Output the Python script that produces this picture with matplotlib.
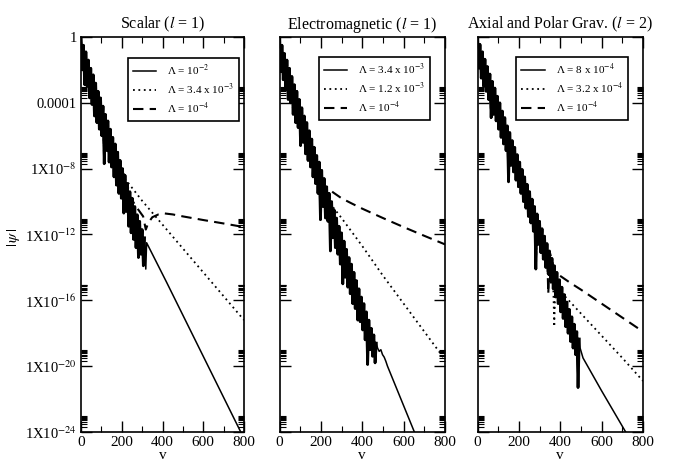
import numpy as np
import matplotlib.pyplot as plt
from matplotlib.ticker import FixedLocator, MultipleLocator, NullFormatter

plt.rcParams["font.family"] = ["Liberation Serif", "DejaVu Serif"]
plt.rcParams["mathtext.fontset"] = "stix"

# ---- data: log10|psi| ----
# ringing stage, shared by the three runs of a panel:
# crests at v = 0, 12, 24, ... and dips half-way between them
scalar_crest = [0.0, -0.5, -0.9, -1.4, -1.9, -2.3, -2.8, -3.3, -3.7, -4.2, -4.7, -5.1, -5.6, -6.1,
                -6.5, -7.0, -7.5, -8.0, -8.4, -8.9, -9.4, -9.8, -10.3, -10.8, -11.2, -11.7, -12.2]
scalar_dip = [-2.0, -2.9, -3.0, -3.7, -4.1, -4.8, -5.2, -5.6, -6.0, -7.7, -6.9, -7.6, -7.9,
              -8.5, -9.0, -9.5, -9.8, -10.7, -10.6, -11.5, -11.9, -12.3, -12.8, -13.4, -13.2, -13.9]

em_crest = [0.0, -0.5, -1.0, -1.4, -1.9, -2.4, -2.9, -3.3, -3.8, -4.3, -4.8, -5.2, -5.7, -6.2,
            -6.7, -7.2, -7.6, -8.1, -8.6, -9.1, -9.5, -10.0, -10.5, -11.0, -11.5, -11.9, -12.4,
            -12.9, -13.4, -13.8, -14.3, -14.8, -15.3, -15.8, -16.2, -16.7, -17.2, -17.7, -18.1, -18.6]
em_dip = [-2.1, -2.6, -3.2, -3.8, -4.0, -4.7, -5.2, -5.5, -6.6, -6.4, -7.1, -7.5, -7.9, -8.5,
          -8.9, -9.5, -11.1, -10.3, -11.0, -11.2, -13.0, -12.2, -12.8, -13.2, -13.8, -15.0, -14.6,
          -15.2, -15.6, -16.2, -16.5, -17.2, -17.3, -17.8, -18.4, -19.9, -19.0, -19.4, -19.8]

grav_crest = [0.0, -0.45, -0.9, -1.35, -1.8, -2.25, -2.7, -3.1, -3.6, -4.0, -4.5, -4.9, -5.4, -5.8,
              -6.3, -6.7, -7.15, -7.6, -8.05, -8.5, -8.95, -9.4, -9.85, -10.3, -10.75, -11.2, -11.65,
              -12.1, -12.55, -13.0, -13.45, -13.9, -14.3, -14.75, -15.2, -15.65, -16.1, -16.55, -17.0,
              -17.45, -17.9, -18.35]
grav_dip = [-1.9, -2.5, -3.0, -3.3, -3.8, -4.9, -4.7, -5.1, -5.6, -6.1, -6.5, -6.9, -8.8, -7.8,
            -8.2, -8.7, -9.1, -9.5, -10.0, -10.4, -10.9, -11.3, -11.8, -14.1, -12.6, -13.1, -13.5,
            -14.0, -14.4, -14.9, -15.3, -15.8, -16.2, -16.7, -17.1, -17.6, -18.0, -18.5, -18.9,
            -19.3, -21.3]

# late-time tails, (v, log10|psi|), and where each run leaves the ringing band
scalar_solid_end = 312
scalar_solid_v = [318, 322, 420, 500, 600, 700, 800]
scalar_solid_lg = [-14.1, -12.5, -14.9, -16.9, -19.4, -21.9, -24.4]
scalar_dot_end = 204
scalar_dot_v = [215, 300, 400, 500, 600, 700, 800]
scalar_dot_lg = [-8.6, -9.95, -11.4, -12.85, -14.3, -15.75, -17.2]
scalar_dash_end = 228
scalar_dash_v = [236, 270, 305, 318, 330, 350, 380, 410, 450, 500, 600, 700, 800]
scalar_dash_lg = [-9.6, -10.3, -10.9, -11.7, -11.3, -10.95, -10.78, -10.72, -10.78, -10.9,
                  -11.12, -11.33, -11.55]

em_solid_end = 468
em_solid_v = [474, 482, 490, 498, 506, 514, 522, 600, 652, 700]
em_solid_lg = [-18.9, -19.1, -19.0, -19.3, -19.45, -19.7, -20.0, -22.4, -24.0, -25.5]
em_dot_end = 240
em_dot_v = [250, 300, 400, 500, 600, 700, 800]
em_dot_lg = [-10.2, -11.0, -12.7, -14.5, -16.2, -17.9, -19.6]
em_dash_end = 228
em_dash_v = [240, 260, 300, 350, 400, 500, 600, 700, 800]
em_dash_lg = [-9.25, -9.45, -9.8, -10.12, -10.43, -11.0, -11.55, -12.08, -12.6]

grav_solid_end = 492
grav_solid_v = [496, 510, 600, 707, 800]
grav_solid_lg = [-18.9, -19.5, -21.5, -23.8, -25.8]
grav_dot_end = 348
grav_dot_v = [356, 366, 371, 376, 400, 500, 600, 700, 800]
grav_dot_lg = [-14.4, -15.0, -17.6, -15.1, -15.45, -16.8, -18.15, -19.5, -20.9]
grav_dash_end = 336
grav_dash_v = [342, 350, 375, 450, 500, 600, 700, 800]
grav_dash_lg = [-15.6, -13.1, -14.3, -14.95, -15.35, -16.2, -17.05, -17.9]

titles = [r"Scalar ($l$ = 1)", r"Electromagnetic ($l$ = 1)", r"Axial and Polar Grav. ($l$ = 2)"]
legend_labels = [
    [r"Λ = 10$^{-2}$", r"Λ = 3.4 x 10$^{-3}$", r"Λ = 10$^{-4}$"],
    [r"Λ = 3.4 x 10$^{-3}$", r"Λ = 1.2 x 10$^{-3}$", r"Λ = 10$^{-4}$"],
    [r"Λ = 8 x 10$^{-4}$", r"Λ = 3.2 x 10$^{-4}$", r"Λ = 10$^{-4}$"],
]
ytick_values = [1e-24, 1e-20, 1e-16, 1e-12, 1e-8, 1e-4, 1]
ytick_labels = [r"1X10$^{-24}$", r"1X10$^{-20}$", r"1X10$^{-16}$", r"1X10$^{-12}$",
                r"1X10$^{-8}$", "0.0001", "1"]


def ringdown(crest, dip):
    v = np.arange(len(crest) + len(dip)) * 6.0
    lg = np.empty(len(v))
    lg[0::2] = crest
    lg[1::2] = dip
    return v, lg


def curve(ring, v_end, tail_v, tail_lg):
    v, lg = ring
    keep = v <= v_end
    return np.r_[v[keep], tail_v], 10.0 ** np.r_[lg[keep], tail_lg]


rings = [ringdown(scalar_crest, scalar_dip), ringdown(em_crest, em_dip), ringdown(grav_crest, grav_dip)]
runs = [
    [(scalar_solid_end, scalar_solid_v, scalar_solid_lg),
     (scalar_dot_end, scalar_dot_v, scalar_dot_lg),
     (scalar_dash_end, scalar_dash_v, scalar_dash_lg)],
    [(em_solid_end, em_solid_v, em_solid_lg),
     (em_dot_end, em_dot_v, em_dot_lg),
     (em_dash_end, em_dash_v, em_dash_lg)],
    [(grav_solid_end, grav_solid_v, grav_solid_lg),
     (grav_dot_end, grav_dot_v, grav_dot_lg),
     (grav_dash_end, grav_dash_v, grav_dash_lg)],
]
styles = [dict(ls="-", lw=1.1), dict(ls=(0, (1, 2)), lw=1.3), dict(ls=(0, (5, 3)), lw=1.5)]

fig = plt.figure(figsize=(6.78, 4.61), dpi=100)
boxes = [(81, 163), (279.5, 165.5), (477.5, 165.5)]
legend_anchor = [(0.969, 0.947), (0.909, 0.949), (0.909, 0.949)]
ytop, ybot = 37, 432
minor_y = [m * k for m in ytick_values[:-1] for k in range(2, 10)]

for i, (x0, w) in enumerate(boxes):
    ax = fig.add_axes([x0 / 678, (461 - ybot) / 461, w / 678, (ybot - ytop) / 461])

    # the ringing band is dense in the original, draw it with a heavier pen
    ring_v, ring_lg = rings[i]
    band = ring_v <= runs[i][0][0]
    ax.plot(ring_v[band], 10.0 ** ring_lg[band], color="black", lw=2.0)

    lines = []
    for (v_end, tv, tl), st in zip(runs[i], styles):
        v, psi = curve(rings[i], v_end, tv, tl)
        ln, = ax.plot(v, psi, color="black", **st)
        lines.append(ln)

    ax.set_yscale("log")
    ax.set_xlim(0, 800)
    ax.set_ylim(1e-24, 1)
    ax.xaxis.set_major_locator(MultipleLocator(200))
    ax.xaxis.set_minor_locator(MultipleLocator(100))
    ax.yaxis.set_major_locator(FixedLocator(ytick_values))
    ax.yaxis.set_minor_locator(FixedLocator(minor_y))
    ax.yaxis.set_minor_formatter(NullFormatter())
    if i == 0:
        ax.set_yticklabels(ytick_labels)
    ax.tick_params(which="both", direction="in", top=True, right=True, labelsize=11,
                   labelleft=(i == 0), pad=3)
    ax.tick_params(axis="y", labelsize=10.5)
    ax.tick_params(which="major", length=8, width=1.0)
    ax.tick_params(which="minor", length=4, width=0.8)
    for sp in ax.spines.values():
        sp.set_linewidth(1.2)

    ax.set_title(titles[i], fontsize=11.5, pad=6)
    ax.set_xlabel("v", fontsize=11, labelpad=0)

    leg = ax.legend(lines, legend_labels[i], loc="upper right", bbox_to_anchor=legend_anchor[i],
                    borderaxespad=0, fontsize=8, frameon=True, fancybox=False, framealpha=1,
                    edgecolor="black", handlelength=2.1, handletextpad=1.0, borderpad=0.45,
                    labelspacing=0.35)
    leg.get_frame().set_linewidth(1.2)

fig.text(14 / 678, 1 - 237 / 461, r"$|\,\psi\,|$", rotation=90, fontsize=11,
         ha="center", va="center")

fig.savefig("out.png", dpi=100)
